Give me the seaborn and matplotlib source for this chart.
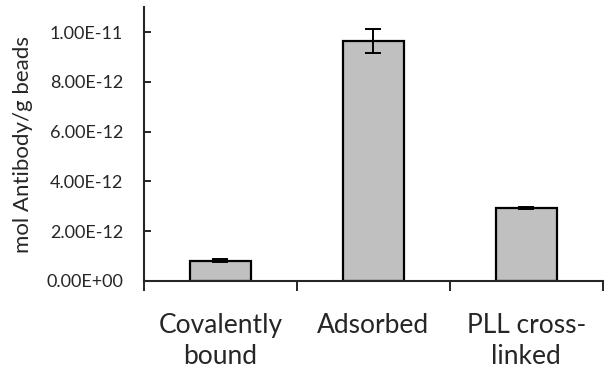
import matplotlib
matplotlib.use("Agg")
import matplotlib.pyplot as plt
import seaborn as sns
import pandas as pd

# values
categories = ["Covalently\nbound", "Adsorbed", "PLL cross-\nlinked"]
values = [0.81e-12, 9.64e-12, 2.93e-12]
errors = [0.05e-12, 0.48e-12, 0.05e-12]
ytick_values = [0, 2e-12, 4e-12, 6e-12, 8e-12, 1e-11]
ytick_labels = ["0.00E+00", "2.00E-12", "4.00E-12", "6.00E-12", "8.00E-12", "1.00E-11"]

data = pd.DataFrame({"group": categories, "value": values})

sns.set_style("ticks")
plt.rcParams["font.family"] = ["Lato", "DejaVu Sans"]

fig = plt.figure(figsize=(6.12, 3.76), dpi=100)
ax = fig.add_axes([0.235, 0.253, 0.75, 0.728])

sns.barplot(
    x="group",
    y="value",
    data=data,
    color="#c0c0c0",
    edgecolor="black",
    linewidth=1.6,
    width=0.4,
    errorbar=None,
    ax=ax,
    saturation=1,
)
ax.errorbar(range(len(values)), values, yerr=errors, fmt="none",
            ecolor="black", elinewidth=1.4, capsize=6, capthick=1.4)

ax.set_xlim(-0.5, 2.5)
ax.set_ylim(0, 1.1e-11)
ax.set_yticks(ytick_values)
ax.set_yticklabels(ytick_labels, fontsize=13)
ax.tick_params(axis="y", direction="in", length=5, width=1.4, pad=15)
ax.tick_params(axis="x", which="major", length=0, pad=23, labelsize=19)
for lbl in ax.get_xticklabels():
    lbl.set_linespacing(1.3)
ax.set_xticks([-0.5, 0.5, 1.5, 2.5], minor=True)
ax.tick_params(axis="x", which="minor", direction="out", length=7.5, width=1.4)

for side in ["top", "right"]:
    ax.spines[side].set_visible(False)
for side in ["left", "bottom"]:
    ax.spines[side].set_linewidth(1.5)

ax.set_xlabel("")
ax.set_ylabel("mol Antibody/g beads", fontsize=16)
ax.yaxis.set_label_coords(-0.242, 0.5)

fig.savefig("out.png", dpi=100)
